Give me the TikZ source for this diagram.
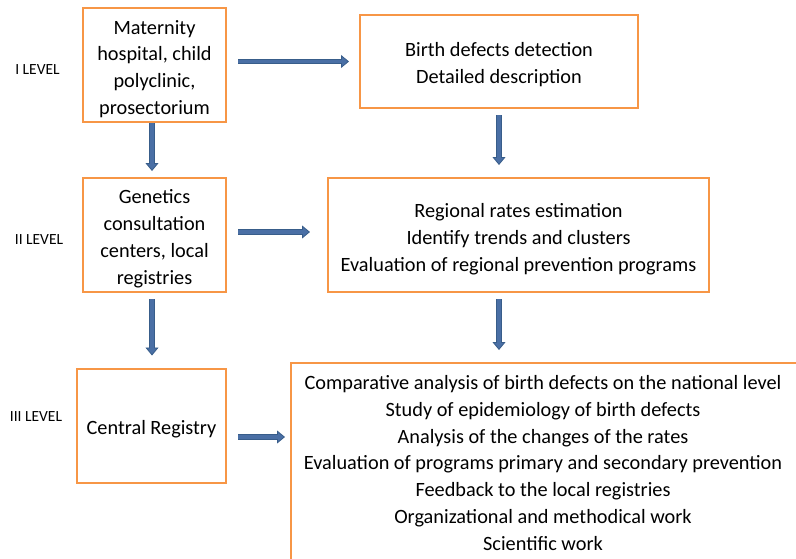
\documentclass[tikz,border=0pt]{standalone}
\usepackage{fontspec}
\setmainfont{Carlito}
\usetikzlibrary{arrows.meta,calc}
\definecolor{boxorange}{HTML}{F79646}
\definecolor{arrowfill}{HTML}{4A6FA5}
\definecolor{arrowedge}{HTML}{385D8A}
\newcommand{\boxfont}{\fontsize{20.3}{26.9}\selectfont}
\newcommand{\lvlfont}{\fontsize{15.5}{18}\selectfont}
\tikzset{
  box/.style={draw=boxorange, line width=2pt, inner sep=0pt},
  txt/.style={align=center, font=\boxfont, inner sep=0pt},
  lvl/.style={font=\lvlfont, inner sep=0pt},
  flow/.style={draw=arrowfill, line width=3.4pt, shorten >=7pt,
    preaction={draw=arrowedge, line width=5.4pt, shorten >=0pt,
      -{Triangle[width=13pt,length=8pt,line width=0.8pt,fill=arrowfill]}}},
}
\begin{document}
\begin{tikzpicture}[x=1pt,y=-1pt]
\fill[white] (0,0) rectangle (796,558);
\useasboundingbox (0,0) rectangle (796,558);
% level labels
\node[lvl] (L1) at (37.5,70) {I LEVEL};
\node[lvl] (L2) at (39,240) {II LEVEL};
\node[lvl] (L3) at (36,417) {III LEVEL};
% boxes
\node[box, minimum width=143pt, minimum height=114pt] (A) at (154.5,65) {};
\node[box, minimum width=278pt, minimum height=93pt] (B) at (499,61.5) {};
\node[box, minimum width=143pt, minimum height=114pt] (C) at (154.5,235) {};
\node[box, minimum width=381pt, minimum height=114pt] (D) at (518.5,235) {};
\node[box, minimum width=149pt, minimum height=114pt] (E) at (151.5,425.5) {};
\begin{scope}
\clip (0,0) rectangle (796,558);
\node[box, minimum width=520pt, minimum height=220pt, anchor=north west] (F) at (290,362) {};
\end{scope}
% texts
\node[txt] (At) at ($(A.center)+(0,4)$)
  {Maternity\\hospital, child\\polyclinic,\\prosectorium};
\node[txt] (Bt) at ($(B.center)+(0,3.5)$)
  {Birth defects detection\\Detailed description};
\node[txt] (Ct) at ($(C.center)+(0,4)$)
  {Genetics\\consultation\\centers, local\\registries};
\node[txt] (Dt) at ($(D.center)+(0,4)$)
  {Regional rates estimation\\Identify trends and clusters\\Evaluation of regional prevention programs};
\node[txt] (Et) at ($(E.center)+(0,4)$) {Central Registry};
\node[txt] (Ft) at (543,463)
  {Comparative analysis of birth defects on the national level\\
   Study of epidemiology of birth defects\\
   Analysis of the changes of the rates\\
   Evaluation of programs primary and secondary prevention\\
   Feedback to the local registries\\
   Organizational and methodical work\\
   Scientific work};
% arrows
\draw[flow] ($(A.east |- B.west)+(11,0)$) -- ($(B.west)+(-10,0)$);
\draw[flow] ($(A.south)+(-2.5,0)$) -- ($(A.south |- C.north)+(-2.5,-6)$);
\draw[flow] ($(B.south)+(0,6)$) -- ($(B.south |- D.north)+(0,-12)$);
\draw[flow] ($(C.east)+(11,-3)$) -- ($(C.east -| D.west)+(-17,-3)$);
\draw[flow] ($(C.south)+(-2.5,6)$) -- ($(C.south |- E.north)+(-2.5,-12)$);
\draw[flow] ($(B.south |- D.south)+(0,6)$) -- ($(B.south |- F.north)+(0,-12)$);
\draw[flow] ($(E.east)+(11,11.5)$) -- ($(E.east -| F.west)+(-5,11.5)$);
\end{tikzpicture}
\end{document}
